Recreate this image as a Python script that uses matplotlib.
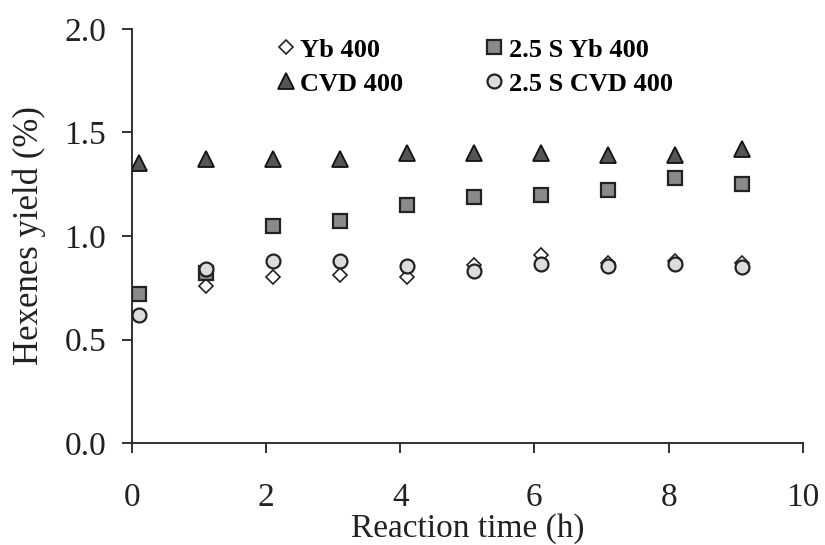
import matplotlib
matplotlib.use("Agg")
import matplotlib.pyplot as plt

# reaction time (h) for each sample point
time_h = [0.1, 1.1, 2.1, 3.1, 4.1, 5.1, 6.1, 7.1, 8.1, 9.1]

yb_400 = [0.76, 0.80, 0.81, 0.80, 0.86, 0.91, 0.87, 0.88, 0.87]
yb_400_time = time_h[1:]
s_yb_400 = [0.72, 0.82, 1.05, 1.07, 1.15, 1.19, 1.20, 1.22, 1.28, 1.25]
cvd_400 = [1.35, 1.37, 1.37, 1.37, 1.40, 1.40, 1.40, 1.39, 1.39, 1.42]
s_cvd_400 = [0.62, 0.84, 0.88, 0.88, 0.855, 0.83, 0.865, 0.855, 0.865, 0.85]

plt.rcParams['font.family'] = ['Liberation Serif', 'DejaVu Serif']

fig = plt.figure(figsize=(8.25, 5.45), dpi=100)
ax = fig.add_axes([0.16, 0.187, 0.813, 0.760])

ax.plot(yb_400_time, yb_400, linestyle='none', marker='D', markersize=7,
        markerfacecolor='white', markeredgecolor='#222222', markeredgewidth=1.2,
        label='Yb 400', zorder=3)
ax.plot(time_h, cvd_400, linestyle='none', marker='^', markersize=11,
        markerfacecolor='#555555', markeredgecolor='#111111', markeredgewidth=1.3,
        label='CVD 400', zorder=3)
ax.plot(time_h, s_yb_400, linestyle='none', marker='s', markersize=9.5,
        markerfacecolor='#8a8a8a', markeredgecolor='#222222', markeredgewidth=1.6,
        label='2.5 S Yb 400', zorder=3)
ax.plot(time_h, s_cvd_400, linestyle='none', marker='o', markersize=10,
        markerfacecolor='#dcdcdc', markeredgecolor='#222222', markeredgewidth=1.6,
        label='2.5 S CVD 400', zorder=4)

ax.set_xlim(0, 10)
ax.set_ylim(0, 2.0)
ax.set_xticks([0, 2, 4, 6, 8, 10])
ax.set_yticks([0.0, 0.5, 1.0, 1.5, 2.0])
ax.set_yticklabels(['0.0', '0.5', '1.0', '1.5', '2.0'])
ax.spines['top'].set_visible(False)
ax.spines['right'].set_visible(False)
for s in ['left', 'bottom']:
    ax.spines[s].set_linewidth(1.3)
    ax.spines[s].set_color('#222222')
ax.tick_params(direction='out', length=7.5, width=1.3, labelsize=24, colors='#222222')
ax.tick_params(axis='x', pad=21)
ax.tick_params(axis='y', pad=11)

ax.set_xlabel('Reaction time (h)', fontsize=24, color='#222222', labelpad=0)
ax.set_ylabel('Hexenes yield (%)', fontsize=25, color='#222222', labelpad=13)

leg = ax.legend(ncol=2, loc='upper left', bbox_to_anchor=(0.174, 1.035), frameon=False,
                prop={'weight': 'bold', 'size': 19, 'family': ['Liberation Serif']},
                handletextpad=0.05, columnspacing=2.95, labelspacing=0.4, handlelength=1.0)

fig.savefig('out.png', dpi=100)
